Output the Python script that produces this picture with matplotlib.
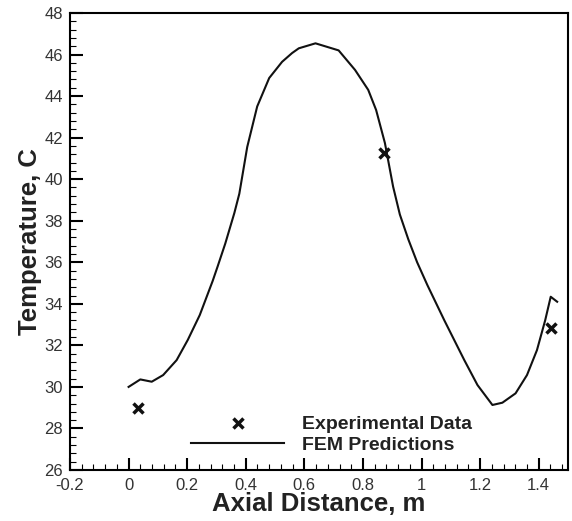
import numpy as np
import matplotlib
matplotlib.use("Agg")
import matplotlib.pyplot as plt
from matplotlib.ticker import MultipleLocator

plt.rcParams["font.family"] = ["Liberation Sans", "DejaVu Sans"]

# FEM curve
fem_x = [0.0, 0.04, 0.079, 0.118, 0.164, 0.202, 0.243, 0.287, 0.304, 0.33,
         0.361, 0.378, 0.405, 0.439, 0.48, 0.524, 0.558, 0.581, 0.638, 0.717,
         0.773, 0.818, 0.845, 0.875, 0.903, 0.926, 0.955, 0.985, 1.02, 1.078,
         1.146, 1.191, 1.242, 1.276, 1.321, 1.36, 1.394, 1.422, 1.441, 1.463]
fem_y = [30.0, 30.36, 30.25, 30.57, 31.29, 32.26, 33.46, 35.1, 35.8, 36.9,
         38.37, 39.3, 41.55, 43.5, 44.87, 45.65, 46.07, 46.3, 46.54, 46.2,
         45.26, 44.3, 43.33, 41.74, 39.64, 38.3, 37.1, 36.0, 34.9, 33.2,
         31.29, 30.09, 29.13, 29.24, 29.69, 30.57, 31.77, 33.2, 34.34, 34.1]

# experimental points
exp_x = [0.032, 0.873, 1.441]
exp_y = [28.97, 41.27, 32.82]

fig = plt.figure(figsize=(5.72, 5.21), dpi=100)
ax = fig.add_axes([70 / 572, 1 - 470 / 521, 498 / 572, 457 / 521])

ax.plot(exp_x, exp_y, ls="none", marker="x", ms=7.5, mew=2.5, color="#111111",
        label="Experimental Data")
ax.plot(fem_x, fem_y, color="#111111", lw=1.5, label="FEM Predictions")

ax.set_xlim(-0.2, 1.5)
ax.set_ylim(26, 48)
ax.xaxis.set_minor_locator(MultipleLocator(0.04))
ax.yaxis.set_major_locator(MultipleLocator(2))
ax.yaxis.set_minor_locator(MultipleLocator(0.4))
ax.set_xticks(np.arange(-0.2, 1.41, 0.2))
ax.set_xticklabels(["-0.2", "0", "0.2", "0.4", "0.6", "0.8", "1", "1.2", "1.4"])
ax.tick_params(which="major", direction="in", length=9, width=1.5,
               labelsize=12, labelcolor="#333333")
ax.tick_params(axis="x", which="major", pad=6)
ax.tick_params(axis="y", which="major", pad=5)
ax.tick_params(which="minor", direction="in", length=4.5, width=0.8)
for s in ax.spines.values():
    s.set_linewidth(1.5)

ax.set_xlabel("Axial Distance, m", fontsize=18.5, fontweight="bold",
              color="#222222", labelpad=-1)
ax.set_ylabel("Temperature, C", fontsize=18.5, fontweight="bold",
              color="#222222", labelpad=2)

leg = ax.legend(loc="lower left", bbox_to_anchor=(0.243, 0.035), frameon=False,
                prop={"weight": "bold", "size": 14},
                handlelength=4.8, handletextpad=0.9, labelspacing=0.15,
                borderpad=0, borderaxespad=0)
for t in leg.get_texts():
    t.set_color("#222222")

fig.savefig("out.png", dpi=100)
